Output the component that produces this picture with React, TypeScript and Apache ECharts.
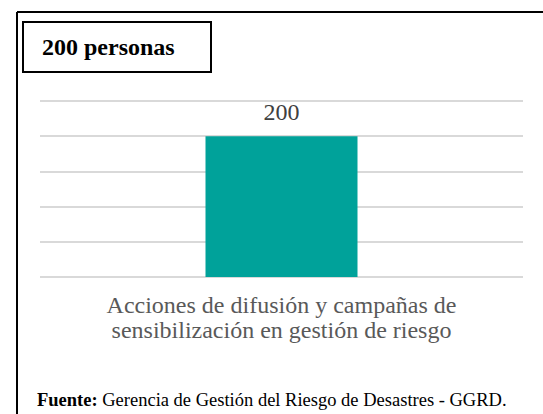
import React, { useEffect, useRef } from "react";
import * as echarts from "echarts";

const categories = ["Acciones de difusión y campañas de\nsensibilización en gestión de riesgo"];
const values = [200];
const titleText = "200 personas";
const sourceLabel = "Fuente:";
const sourceText = " Gerencia de Gestión del Riesgo de Desastres - GGRD.";
const yMin = 0;
const yMax = 250;
const yInterval = 50;

const SERIF = "Liberation Serif";

export default function App() {
  const ref = useRef<HTMLDivElement>(null);
  useEffect(() => {
    if (!ref.current) return;
    const chart = echarts.init(ref.current, null, { renderer: "svg" });
    chart.setOption({
      animation: false,
      backgroundColor: "#ffffff",
      textStyle: { fontFamily: SERIF },
      grid: { left: 40, right: 20, top: 101, bottom: 137, containLabel: false },
      xAxis: {
        type: "category",
        data: categories,
        axisLine: { show: false },
        axisTick: { show: false },
        axisLabel: {
          fontFamily: SERIF,
          fontSize: 24,
          color: "#595959",
          lineHeight: 25,
          margin: 15,
          interval: 0,
        },
      },
      yAxis: {
        type: "value",
        min: yMin,
        max: yMax,
        interval: yInterval,
        axisLabel: { show: false },
        axisLine: { show: false },
        axisTick: { show: false },
        splitLine: { show: true, lineStyle: { color: "#d9d9d9", width: 2 } },
      },
      series: [
        {
          type: "bar",
          data: values,
          barWidth: 152,
          itemStyle: { color: "#00A29A" },
          label: {
            show: true,
            position: "top",
            distance: 12,
            fontFamily: SERIF,
            fontSize: 24,
            color: "#404040",
          },
        },
      ],
      graphic: [
        {
          type: "line",
          shape: { x1: 17, y1: 12, x2: 543, y2: 12 },
          style: { stroke: "#000", lineWidth: 2 },
        },
        {
          type: "line",
          shape: { x1: 17, y1: 12, x2: 17, y2: 414 },
          style: { stroke: "#000", lineWidth: 2 },
        },
        {
          type: "rect",
          shape: { x: 23, y: 22, width: 188, height: 50 },
          style: { fill: "#fff", stroke: "#000", lineWidth: 2 },
        },
        {
          type: "text",
          x: 42,
          y: 47,
          style: {
            text: titleText,
            fontFamily: SERIF,
            fontSize: 24,
            fontWeight: "bold",
            fill: "#000",
            verticalAlign: "middle",
          },
        },
        {
          type: "text",
          x: 37,
          y: 400,
          style: {
            text: "{b|" + sourceLabel + "}" + sourceText,
            fontFamily: SERIF,
            fontSize: 18.5,
            fill: "#000",
            verticalAlign: "middle",
            rich: {
              b: { fontFamily: SERIF, fontSize: 18.5, fontWeight: "bold", fill: "#000" },
            },
          },
        },
      ],
    });
    return () => chart.dispose();
  }, []);
  return (
    <div
      ref={ref}
      style={{ position: "absolute", left: 0, top: 0, width: 543, height: 414 }}
    />
  );
}
